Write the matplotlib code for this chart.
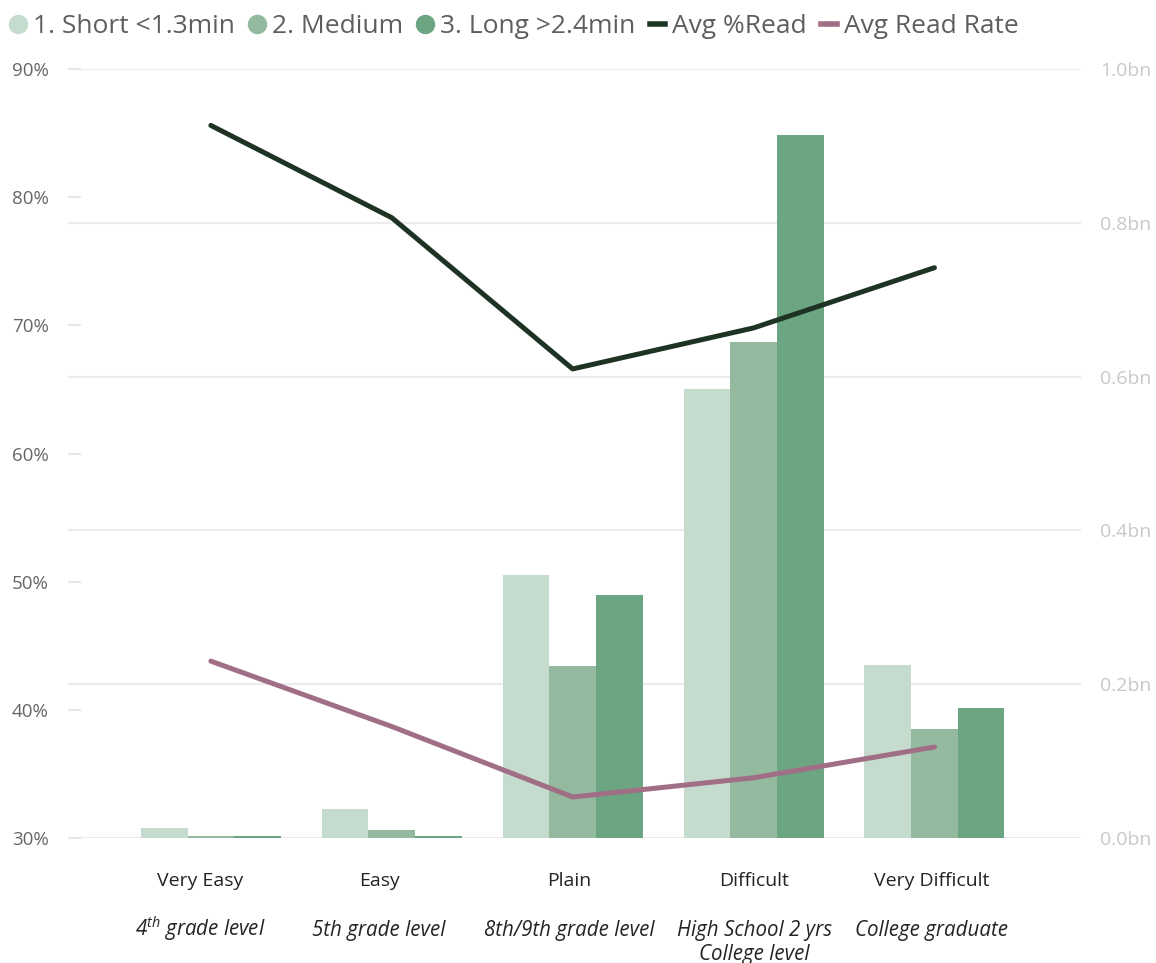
import matplotlib
matplotlib.use("Agg")
import matplotlib.pyplot as plt
from matplotlib.lines import Line2D
import numpy as np

plt.rcParams['font.family'] = ['Open Sans', 'DejaVu Sans']
plt.rcParams['mathtext.fontset'] = 'custom'
plt.rcParams['mathtext.rm'] = 'Open Sans:italic'
plt.rcParams['mathtext.it'] = 'Open Sans:italic'

# Readability groups and their grade-level descriptions
categories = ["Very Easy", "Easy", "Plain", "Difficult", "Very Difficult"]
grade_levels = [r"4$^{th}$ grade level", "5th grade level", "8th/9th grade level",
                "High School 2 yrs\nCollege level", "College graduate"]

# Reads by article length (billions)
short_reads = [0.013, 0.038, 0.342, 0.584, 0.225]
medium_reads = [0.003, 0.010, 0.224, 0.645, 0.142]
long_reads = [0.003, 0.003, 0.316, 0.914, 0.169]

# Averages (percent)
avg_pct_read = [85.6, 78.4, 66.6, 69.8, 74.5]
avg_read_rate = [43.8, 38.7, 33.2, 34.7, 37.1]

pct_ticks = [30, 40, 50, 60, 70, 80, 90]
bn_ticks = [0.0, 0.2, 0.4, 0.6, 0.8, 1.0]

c_short = "#C4DBCE"
c_medium = "#93B99E"
c_long = "#6BA582"
c_read = "#1E3324"
c_rate = "#A06E85"

fig = plt.figure(figsize=(11.56, 9.63), dpi=100)
ax = fig.add_axes([0.0588, 0.1298, 0.8763, 0.7985])

x = np.arange(len(categories))
w = 0.258
ax.bar(x - w, short_reads, w, color=c_short, zorder=2)
ax.bar(x, medium_reads, w, color=c_medium, zorder=2)
ax.bar(x + w, long_reads, w, color=c_long, zorder=2)

ax.set_xlim(-0.79, 4.81)
ax.set_ylim(0, 1.0)
ax.grid(axis='y', color="#EBEBEB", linewidth=1.5, zorder=0)
ax.set_axisbelow(True)
ax.set_xticks([])
for s in ax.spines.values():
    s.set_visible(False)

# Percent axis on the left, drawn above the bars
ax2 = ax.twinx()
ax2.yaxis.tick_left()
ax2.plot(x, avg_pct_read, color=c_read, linewidth=3.6, solid_capstyle='round', zorder=3)
ax2.plot(x, avg_read_rate, color=c_rate, linewidth=3.6, solid_capstyle='round', zorder=3)
ax2.set_ylim(30, 90)
ax2.set_yticks(pct_ticks)
ax2.set_yticklabels([f"{t}%" for t in pct_ticks])
ax2.tick_params(axis='y', direction='in', length=9, width=1.5, color="#E6E6E6",
                pad=14, labelsize=13.5, labelcolor="#666666")
for s in ax2.spines.values():
    s.set_visible(False)

# bn axis goes on the right (twinx moved it to the left)
ax.yaxis.tick_right()
ax.set_yticks(bn_ticks)
ax.set_yticklabels([f"{t:.1f}bn" for t in bn_ticks])
ax.tick_params(axis='y', length=0, pad=14, labelsize=14, labelcolor="#C8C8C8")

# Category labels with grade level underneath
label_shift = [-0.06, -0.07, -0.02, 0.005, -0.015]
trans = ax.get_xaxis_transform()
for xi, dx, name, grade in zip(x, label_shift, categories, grade_levels):
    ax.text(xi + dx, -0.0624, name, transform=trans, ha='center', va='baseline',
            fontsize=14, color="#252423")
    for k, line in enumerate(grade.split("\n")):
        ax.text(xi + dx, -0.1274 - 0.0312 * k, line, transform=trans, ha='center',
                va='baseline', fontsize=14.8, style='italic', color="#252423")

handles = [
    Line2D([], [], marker='o', linestyle='none', markersize=13, color=c_short),
    Line2D([], [], marker='o', linestyle='none', markersize=13, color=c_medium),
    Line2D([], [], marker='o', linestyle='none', markersize=13, color=c_long),
    Line2D([], [], color=c_read, linewidth=4),
    Line2D([], [], color=c_rate, linewidth=4),
]
labels = ["1. Short <1.3min", "2. Medium", "3. Long >2.4min", "Avg %Read", "Avg Read Rate"]
fig.legend(handles, labels, loc='center left', bbox_to_anchor=(0.0, 0.972), ncol=5,
           frameon=False, fontsize=19, handlelength=0.6, handletextpad=0.25,
           columnspacing=0.55, borderaxespad=0, labelcolor="#605E5C")

fig.savefig("out.png", dpi=100)
